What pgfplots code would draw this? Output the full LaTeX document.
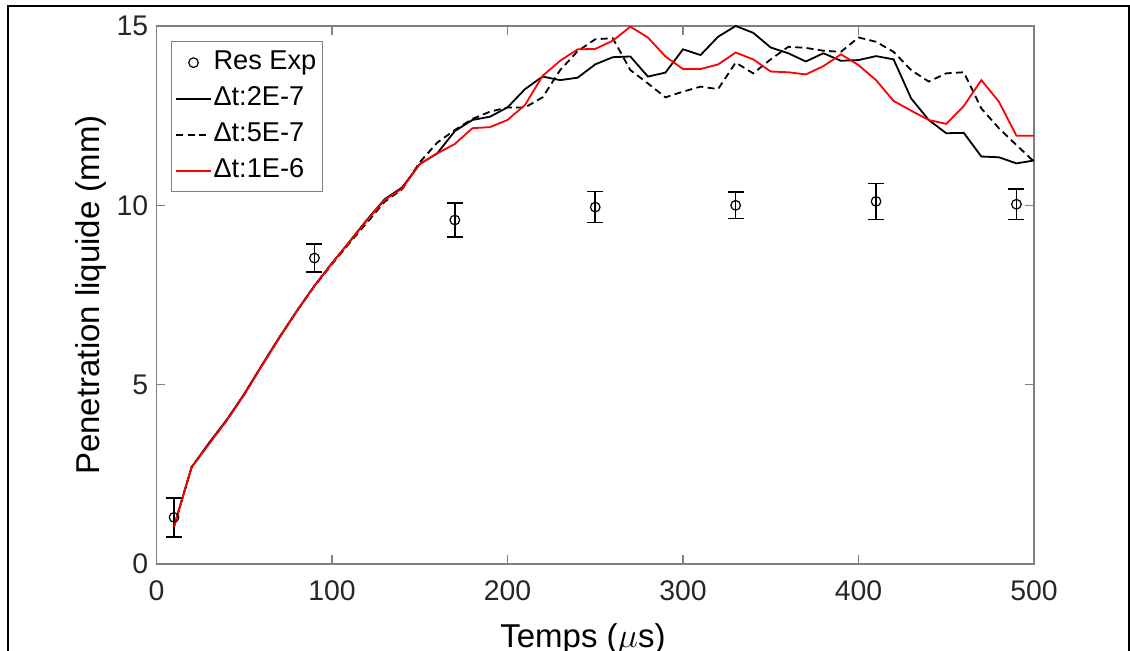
\documentclass[border=0pt]{standalone}
\usepackage{fontspec}
\setmainfont{Liberation Sans}
\usepackage{pgfplots}
\pgfplotsset{compat=1.18}
\definecolor{axgray}{RGB}{128,128,128}
\definecolor{txtgray}{RGB}{38,38,38}

\begin{document}
\begin{tikzpicture}
\begin{axis}[
  scale only axis, width=438.75pt, height=269pt,
  xmin=0, xmax=500, ymin=0, ymax=15,
  xtick={0,100,...,500}, ytick={0,5,10,15},
  tick align=inside, major tick length=4.5pt,
  xtick pos=both, ytick pos=both, xticklabel pos=lower, yticklabel pos=left,
  axis line style={axgray, line width=0.6pt},
  tick style={axgray, line width=0.6pt},
  /pgf/number format/assume math mode=true,
  ticklabel style={font=\fontsize{14.2}{17}\selectfont, text=txtgray},
  xticklabel shift=5pt, yticklabel shift=0.6pt,
  xlabel={Temps ($\mu$s)}, ylabel={Penetration liquide (mm)},
  label style={font=\fontsize{16.5}{20}\selectfont, inner sep=0pt},
  xlabel style={at={(axis description cs:0.486,-0.1097)}, anchor=north},
  ylabel style={at={(axis description cs:-0.0746,0.5)}, anchor=center},
  legend style={at={(axis description cs:0.0165,0.972)}, anchor=north west,
    draw=axgray, line width=0.6pt, fill=white,
    font=\fontsize{13.6}{16}\selectfont,
    inner xsep=2pt, inner ysep=1.5pt,
    nodes={inner xsep=1pt, inner ysep=2.5pt, text height=10pt, text depth=3pt}},
  legend cell align=left,
]
% legend sample for the measured points (error bars are not shown in the key)
\addlegendimage{only marks, mark=o, black, mark size=2.4pt, mark options={line width=0.6pt}}
\addlegendentry{Res Exp}

% measured penetration with error bars
\addplot[black, only marks, mark=o, mark size=2.4pt, mark options={line width=0.6pt},
  forget plot,
  error bars/.cd, y dir=both, y explicit,
  error bar style={line width=0.8pt, black},
  error mark options={rotate=90, mark size=4pt, line width=0.8pt, black}]
coordinates {
  (10,1.30) +- (0,0.54)
  (90,8.53) +- (0,0.39)
  (170,9.59) +- (0,0.48)
  (250,9.95) +- (0,0.43)
  (330,10.00) +- (0,0.37)
  (410,10.11) +- (0,0.50)
  (490,10.03) +- (0,0.42)
};

% time step 2E-7
\addplot[black, line width=0.9pt] coordinates {
  (10,1.05) (20,2.70) (30,3.38) (40,4.02) (50,4.74) (60,5.54) (70,6.32) (80,7.06)
  (90,7.76) (100,8.39) (110,8.99) (120,9.60) (130,10.17) (140,10.50) (150,11.15)
  (160,11.45) (170,12.07) (180,12.38) (190,12.47) (200,12.73) (210,13.24) (220,13.59)
  (230,13.49) (240,13.56) (250,13.93) (260,14.13) (270,14.15) (280,13.59) (290,13.70)
  (300,14.35) (310,14.19) (320,14.70) (330,15.00) (340,14.81) (350,14.40) (360,14.24)
  (370,14.01) (380,14.24) (390,14.03) (400,14.05) (410,14.16) (420,14.07) (430,12.98)
  (440,12.38) (450,12.01) (460,12.02) (470,11.36) (480,11.34) (490,11.17) (500,11.25)
};
\addlegendentry{Δt:2E-7}

% time step 5E-7
\addplot[black, line width=0.9pt, dash pattern=on 3.5pt off 2.2pt] coordinates {
  (10,1.05) (20,2.70) (30,3.36) (40,4.00) (50,4.73) (60,5.53) (70,6.31) (80,7.05)
  (90,7.74) (100,8.36) (110,8.95) (120,9.52) (130,10.10) (140,10.45) (150,11.20)
  (160,11.75) (170,12.10) (180,12.41) (190,12.61) (200,12.73) (210,12.73) (220,13.01)
  (230,13.77) (240,14.30) (250,14.63) (260,14.66) (270,13.77) (280,13.40) (290,13.01)
  (300,13.17) (310,13.31) (320,13.24) (330,13.98) (340,13.68) (350,14.07) (360,14.42)
  (370,14.39) (380,14.31) (390,14.28) (400,14.68) (410,14.56) (420,14.28) (430,13.77)
  (440,13.45) (450,13.68) (460,13.71) (470,12.70) (480,12.15) (490,11.68) (500,11.22)
};
\addlegendentry{Δt:5E-7}

% time step 1E-6
\addplot[red, line width=0.9pt] coordinates {
  (10,1.04) (20,2.70) (30,3.35) (40,4.00) (50,4.72) (60,5.52) (70,6.30) (80,7.05)
  (90,7.75) (100,8.38) (110,8.98) (120,9.58) (130,10.15) (140,10.47) (150,11.15)
  (160,11.45) (170,11.71) (180,12.15) (190,12.18) (200,12.38) (210,12.80) (220,13.61)
  (230,14.03) (240,14.35) (250,14.36) (260,14.59) (270,14.98) (280,14.68) (290,14.15)
  (300,13.80) (310,13.80) (320,13.93) (330,14.26) (340,14.07) (350,13.73) (360,13.71)
  (370,13.65) (380,13.88) (390,14.21) (400,13.91) (410,13.49) (420,12.91) (430,12.64)
  (440,12.38) (450,12.27) (460,12.77) (470,13.49) (480,12.89) (490,11.94) (500,11.94)
};
\addlegendentry{Δt:1E-6}
\end{axis}

% outer frame of the figure
\draw[line width=1pt] (-74.25pt,-80pt) -- (-74.25pt,279pt) -- (486pt,279pt) -- (486pt,-80pt);

\pgfresetboundingbox
\useasboundingbox (-78.25pt,-43.5pt) rectangle (486.75pt,282pt);
\end{tikzpicture}
\end{document}
